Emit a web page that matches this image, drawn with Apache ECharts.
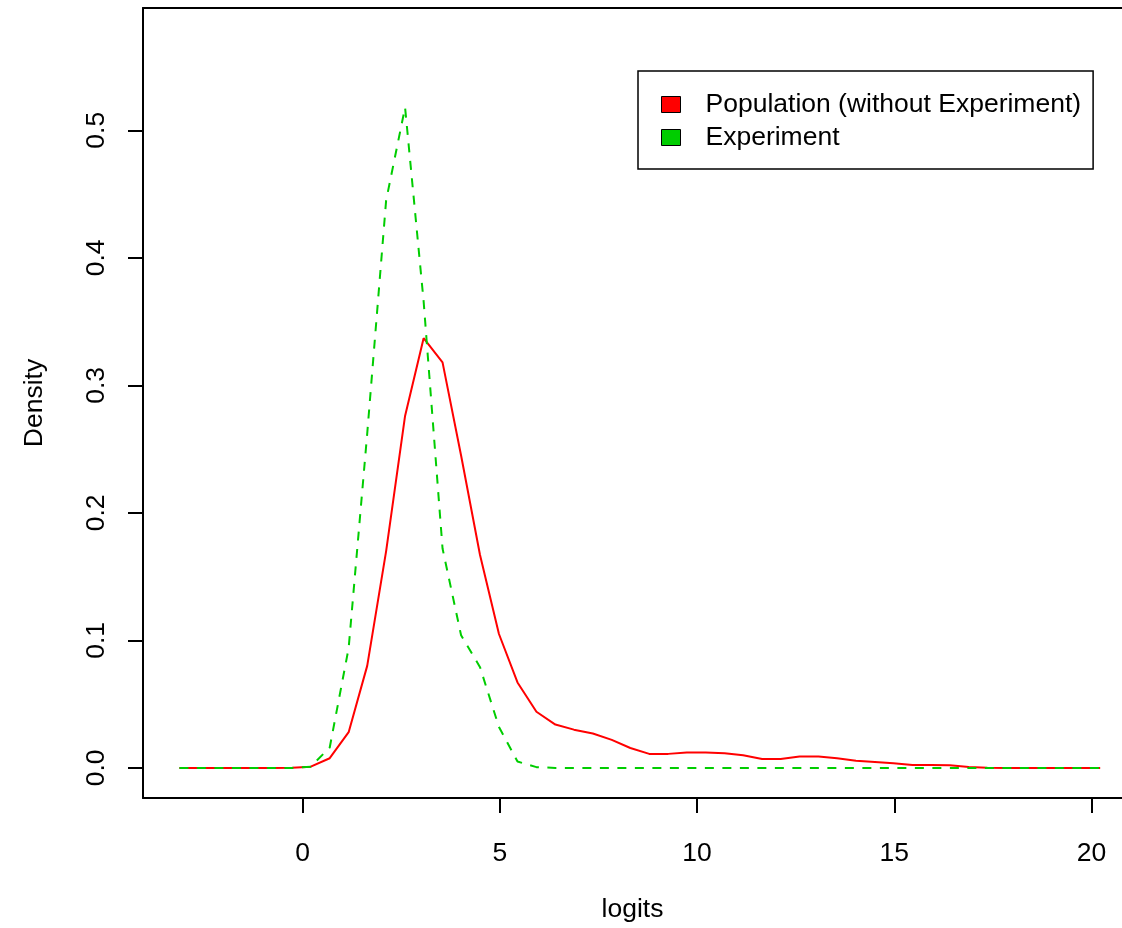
<!DOCTYPE html>
<html>
<head>
<meta charset="utf-8">
<script src="https://cdn.jsdelivr.net/npm/echarts@6/dist/echarts.min.js"></script>
<style>
  html, body { margin: 0; padding: 0; background: #fff; }
  #chart { width: 1122px; height: 928px; }
</style>
</head>
<body>
<div id="chart"></div>
<script>
// density evaluation points (logits)
const logits = [
  -3.12, -2.64, -2.17, -1.69, -1.21, -0.74, -0.26, 0.21, 0.69, 1.17,
  1.64, 2.12, 2.60, 3.07, 3.55, 4.02, 4.50, 4.98, 5.45, 5.93,
  6.41, 6.88, 7.36, 7.84, 8.31, 8.79, 9.27, 9.74, 10.22, 10.70,
  11.17, 11.65, 12.12, 12.60, 13.08, 13.55, 14.03, 14.51, 14.98, 15.46,
  15.93, 16.41, 16.89, 17.36, 17.84, 18.31, 18.79, 19.27, 19.74, 20.22
];

const population = [
  0, 0, 0, 0, 0, 0, 0.0002, 0.001, 0.0076, 0.028,
  0.080, 0.170, 0.276, 0.337, 0.318, 0.245, 0.167, 0.105, 0.067, 0.044,
  0.034, 0.030, 0.027, 0.022, 0.0156, 0.011, 0.011, 0.012, 0.012, 0.0115,
  0.010, 0.007, 0.007, 0.009, 0.009, 0.0076, 0.0057, 0.0047, 0.0036, 0.0023,
  0.0023, 0.0020, 0.0008, 0.0002, 0, 0, 0, 0, 0, 0
];

const experiment = [
  0, 0, 0, 0, 0, 0, 0, 0.001, 0.016, 0.094,
  0.262, 0.445, 0.518, 0.366, 0.172, 0.104, 0.079, 0.032, 0.005, 0.0006,
  0, 0, 0, 0, 0, 0, 0, 0, 0, 0,
  0, 0, 0, 0, 0, 0, 0, 0, 0, 0,
  0, 0, 0, 0, 0, 0, 0, 0, 0, 0
];

const seriesNames = ['Population (without Experiment)', 'Experiment'];
const xTicks = [0, 5, 10, 15, 20];
const yTicks = [0, 0.1, 0.2, 0.3, 0.4, 0.5];

const FONT = 'Liberation Sans, Arial, Helvetica, sans-serif';
const FS = 26.5;
const RED = '#FF0000';
const GREEN = '#00CD00';
const X_MIN = -4.043, X_MAX = 20.773;

const chart = echarts.init(document.getElementById('chart'), null, { renderer: 'canvas' });

const pairs = ys => logits.map((x, i) => [x, ys[i]]);
const boxLine = { show: true, onZero: false, lineStyle: { color: '#000', width: 2 } };

chart.setOption({
  animation: false,
  backgroundColor: '#fff',
  textStyle: { fontFamily: FONT, color: '#000' },
  // plot box runs past the right edge of the picture, so no right border
  grid: { left: 143, top: 8, right: 0, bottom: 127 },
  legend: {
    orient: 'vertical',
    left: 638, top: 71,
    padding: [20, 12, 18, 23],
    itemGap: 6,
    itemWidth: 19, itemHeight: 16,
    icon: 'rect',
    backgroundColor: '#fff',
    borderColor: '#000', borderWidth: 1.5, borderRadius: 0,
    itemStyle: { borderColor: '#000', borderWidth: 1 },
    textStyle: { fontFamily: FONT, fontSize: FS, color: '#000', padding: [0, 0, 0, 20], lineHeight: 26 },
    data: seriesNames,
  },
  xAxis: [
    {
      type: 'value', position: 'bottom',
      min: X_MIN, max: X_MAX,
      name: 'logits', nameLocation: 'middle', nameGap: 98,
      nameTextStyle: { fontFamily: FONT, fontSize: FS, color: '#000' },
      axisLine: boxLine,
      splitLine: { show: false },
      axisTick: { show: true, customValues: xTicks, length: 15, lineStyle: { color: '#000', width: 2 } },
      axisLabel: { customValues: xTicks, margin: 42, fontFamily: FONT, fontSize: FS, color: '#000' },
    },
    {
      type: 'value', position: 'top',
      min: X_MIN, max: X_MAX,
      axisLine: boxLine,
      axisTick: { show: false },
      axisLabel: { show: false },
      splitLine: { show: false },
    },
  ],
  yAxis: {
    type: 'value',
    min: -0.0236, max: 0.5959,
    name: 'Density', nameLocation: 'middle', nameGap: 95, nameRotate: 90,
    nameTextStyle: { fontFamily: FONT, fontSize: FS, color: '#000' },
    axisLine: boxLine,
    splitLine: { show: false },
    axisTick: { show: true, customValues: yTicks, length: 15, lineStyle: { color: '#000', width: 2 } },
    axisLabel: {
      customValues: yTicks, margin: 33, rotate: 90,
      fontFamily: FONT, fontSize: FS, color: '#000',
      formatter: v => v.toFixed(1),
    },
  },
  series: [
    {
      name: seriesNames[0], type: 'line', data: pairs(population),
      xAxisIndex: 0, showSymbol: false, symbol: 'none', color: RED,
      lineStyle: { color: RED, width: 2 },
    },
    {
      name: seriesNames[1], type: 'line', data: pairs(experiment),
      xAxisIndex: 0, showSymbol: false, symbol: 'none', color: GREEN,
      lineStyle: { color: GREEN, width: 2, type: [9, 8.5] },
    },
  ],
});
</script>
</body>
</html>
